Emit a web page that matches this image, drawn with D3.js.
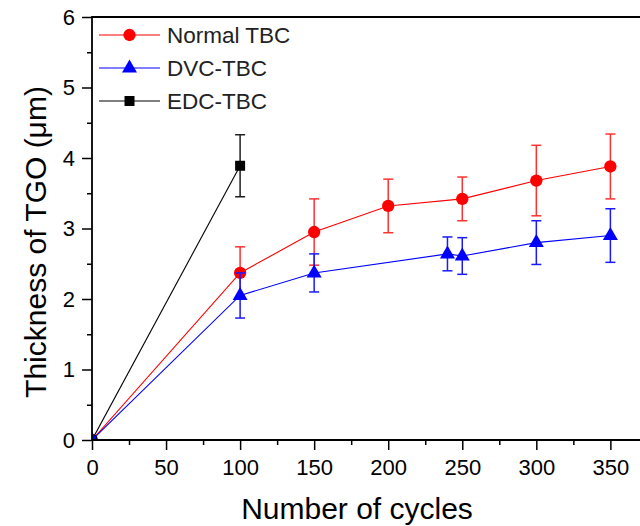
<!DOCTYPE html>
<html>
<head>
<meta charset="utf-8">
<script src="https://cdn.jsdelivr.net/npm/d3@7"></script>
<style>
  body { margin: 0; background: #fff; }
  svg { font-family: "Liberation Sans", Arial, sans-serif; }
</style>
</head>
<body>
<svg id="drawing_region"></svg>
<script>
// data
const normalCycles = [0, 100, 150, 200, 250, 300, 350];
const normalThick  = [0, 2.37, 2.95, 3.32, 3.42, 3.68, 3.88];
const normalErr    = [0, 0.37, 0.47, 0.38, 0.31, 0.50, 0.46];

const dvcCycles = [0, 100, 150, 240, 250, 300, 350];
const dvcThick  = [0, 2.05, 2.37, 2.64, 2.61, 2.80, 2.90];
const dvcErr    = [0, 0.32, 0.27, 0.24, 0.26, 0.31, 0.38];

const edcCycles = [0, 100];
const edcThick  = [0, 3.89];
const edcErr    = [0, 0.44];

const xTicks = [0, 50, 100, 150, 200, 250, 300, 350];
const xMinor = [25, 75, 125, 175, 225, 275, 325];
const yTicks = [0, 1, 2, 3, 4, 5, 6];
const yMinor = [0.5, 1.5, 2.5, 3.5, 4.5, 5.5];

const seriesNames = ["Normal TBC", "DVC-TBC", "EDC-TBC"];

const config = {
    width: 640,
    height: 526,
    margin: {top: 17, right: 0, bottom: 86, left: 92}
};

const zip = (xs, ys, es) => xs.map((x, i) => ({x: x, y: ys[i], e: es[i]}));

const series = [
    {name: seriesNames[0], data: zip(normalCycles, normalThick, normalErr), color: "#ff0000", errColor: "#ff3030", marker: "circle"},
    {name: seriesNames[2], data: zip(edcCycles, edcThick, edcErr), color: "#000000", errColor: "#202020", marker: "square"},
    {name: seriesNames[1], data: zip(dvcCycles, dvcThick, dvcErr), color: "#0000ff", errColor: "#1a1aff", marker: "triangle"}
];

const svg = d3.select('#drawing_region')
    .attr('width', config.width)
    .attr('height', config.height);

const plotLeft = config.margin.left;
const plotRight = config.width - config.margin.right;
const plotTop = config.margin.top;
const plotBottom = config.height - config.margin.bottom;

const xscale = d3.scaleLinear().domain([0, 370]).range([plotLeft, plotRight]);
const yscale = d3.scaleLinear().domain([0, 6]).range([plotBottom, plotTop]);

svg.append('clipPath').attr('id', 'plotclip')
    .append('rect')
    .attr('x', plotLeft).attr('y', plotTop)
    .attr('width', plotRight - plotLeft).attr('height', plotBottom - plotTop);

function markerPath(type) {
    if (type === "circle") return d3.symbol(d3.symbolCircle, 120)();
    if (type === "square") return d3.symbol(d3.symbolSquare, 100)();
    return "M0,-8.5L7.5,4.5L-7.5,4.5Z";
}

const plot = svg.append('g').attr('clip-path', 'url(#plotclip)');

const line = d3.line().x(d => xscale(d.x)).y(d => yscale(d.y));

series.forEach(s => {
    const g = plot.append('g');

    g.append('path')
        .datum(s.data)
        .attr('d', line)
        .attr('fill', 'none')
        .attr('stroke', s.color)
        .attr('stroke-width', 1.1);

    const eb = g.selectAll('.eb')
        .data(s.data.filter(d => d.e > 0))
        .enter()
        .append('g')
        .attr('stroke', s.errColor)
        .attr('stroke-width', 1.5);
    eb.append('line')
        .attr('x1', d => xscale(d.x)).attr('x2', d => xscale(d.x))
        .attr('y1', d => yscale(d.y + d.e)).attr('y2', d => yscale(d.y - d.e));
    eb.append('line')
        .attr('x1', d => xscale(d.x) - 5).attr('x2', d => xscale(d.x) + 5)
        .attr('y1', d => yscale(d.y + d.e)).attr('y2', d => yscale(d.y + d.e));
    eb.append('line')
        .attr('x1', d => xscale(d.x) - 5).attr('x2', d => xscale(d.x) + 5)
        .attr('y1', d => yscale(d.y - d.e)).attr('y2', d => yscale(d.y - d.e));

    g.selectAll('.mk')
        .data(s.data)
        .enter()
        .append('path')
        .attr('d', markerPath(s.marker))
        .attr('transform', d => `translate(${xscale(d.x)}, ${yscale(d.y)})`)
        .attr('fill', s.color);
});

// axes
const xaxis = d3.axisBottom(xscale).tickValues(xTicks).tickSize(10).tickPadding(9);
const xaxisMinor = d3.axisBottom(xscale).tickValues(xMinor).tickSize(5).tickFormat('');
const yaxis = d3.axisLeft(yscale).tickValues(yTicks).tickSize(10).tickPadding(7).tickFormat(d3.format('d'));
const yaxisMinor = d3.axisLeft(yscale).tickValues(yMinor).tickSize(5).tickFormat('');

function styleAxis(g) {
    g.select('.domain').remove();
    g.selectAll('line').attr('stroke', '#000').attr('stroke-width', 1.5);
    g.selectAll('text').attr('fill', '#000').style('font-size', '22px');
}

svg.append('g').attr('transform', `translate(0, ${plotBottom})`).call(xaxis).call(styleAxis);
svg.append('g').attr('transform', `translate(0, ${plotBottom})`).call(xaxisMinor).call(styleAxis);
svg.append('g').attr('transform', `translate(${plotLeft}, 0)`).call(yaxis).call(styleAxis);
svg.append('g').attr('transform', `translate(${plotLeft}, 0)`).call(yaxisMinor).call(styleAxis);

svg.append('path')
    .attr('d', `M${plotRight},${plotTop}H${plotLeft}V${plotBottom}H${plotRight}`)
    .attr('fill', 'none')
    .attr('stroke', '#000')
    .attr('stroke-width', 1.8);

// titles
svg.append('text')
    .attr('x', 357).attr('y', 519)
    .attr('text-anchor', 'middle')
    .style('font-size', '30px')
    .text('Number of cycles');

svg.append('text')
    .attr('transform', 'translate(46, 242) rotate(-90)')
    .attr('text-anchor', 'middle')
    .style('font-size', '30px')
    .text('Thickness of TGO (μm)');

// legend
const legendOrder = [series[0], series[2], series[1]];
const legend = svg.append('g');
legendOrder.forEach((s, i) => {
    const y = 35 + i * 33;
    legend.append('line')
        .attr('x1', 99).attr('x2', 160)
        .attr('y1', y).attr('y2', y)
        .attr('stroke', s.color).attr('stroke-width', 1.1);
    legend.append('path')
        .attr('d', markerPath(s.marker))
        .attr('transform', `translate(129.5, ${y})`)
        .attr('fill', s.color);
    legend.append('text')
        .attr('x', 167).attr('y', y + 8)
        .style('font-size', '22.5px')
        .attr('fill', '#222')
        .text(s.name);
});
</script>
</body>
</html>
